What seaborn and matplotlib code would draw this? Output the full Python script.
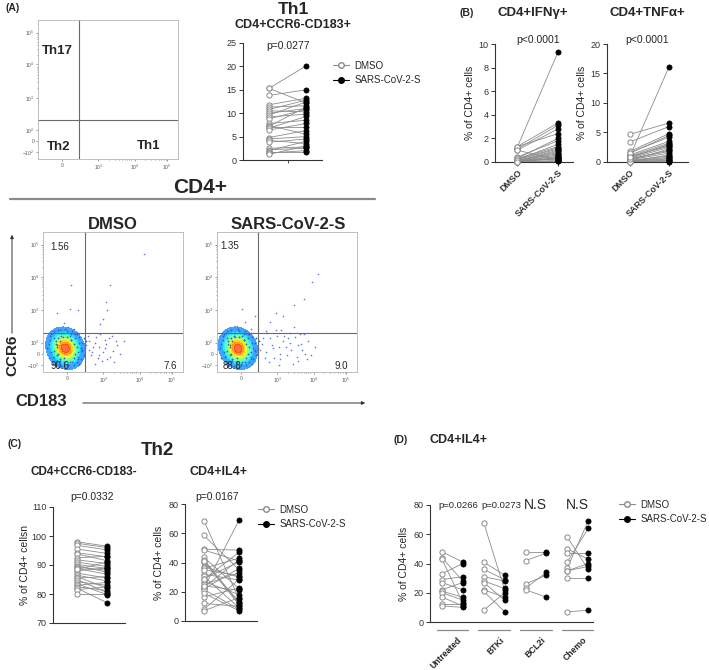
import numpy as np
import pandas as pd
import matplotlib
matplotlib.use("Agg")
import matplotlib.pyplot as plt
import seaborn as sns
from matplotlib.lines import Line2D
from matplotlib.patches import FancyArrowPatch
from matplotlib.colors import LinearSegmentedColormap

# ---------------- data ----------------
conds = ["DMSO", "SARS-CoV-2-S"]

# Th1 CD4+CCR6-CD183+
th1_dmso = [15.3, 15.3, 13.8, 11.8, 11.3, 10.8, 10.5, 10.0, 9.6, 9.2,
            8.8, 7.8, 7.4, 7.2, 7.0, 6.8, 6.4, 4.8, 4.5, 4.2,
            3.8, 2.5, 2.2, 2.0, 1.8, 1.5, 1.2]
th1_sars = [20.1, 12.2, 15.0, 13.2, 11.6, 12.8, 10.3, 11.0, 12.4, 9.8,
            10.8, 8.5, 5.5, 11.3, 7.0, 9.3, 7.8, 6.3, 5.0, 3.5,
            4.5, 2.8, 2.5, 4.0, 1.8, 2.0, 3.0]

# CD4+IFNg+
ifn_dmso = [1.2, 1.3, 1.1, 1.0, 1.3, 0.4, 0.3, 0.2, 0.2, 0.1,
            0.1, 0.1, 0.05, 0.05, 0.0, 0.0, 0.3, 0.2, 1.0, 0.1,
            0.0, 0.05, 0.1, 0.2, 0.0]
ifn_sars = [9.3, 3.3, 3.1, 2.8, 2.4, 1.8, 1.3, 1.2, 1.1, 1.0,
            0.9, 0.8, 0.6, 0.5, 0.4, 0.3, 2.0, 1.5, 0.2, 0.7,
            0.1, 0.35, 0.25, 0.15, 0.05]

# CD4+TNFa+
tnf_dmso = [1.0, 4.7, 3.4, 1.8, 1.5, 1.2, 1.0, 0.8, 0.6, 0.5,
            0.4, 0.3, 0.2, 0.1, 0.1, 0.0, 0.0, 1.6, 0.7, 0.2,
            0.3, 0.1, 0.0, 0.5, 0.9]
tnf_sars = [16.1, 6.6, 6.0, 4.8, 4.5, 3.5, 3.2, 2.9, 2.5, 2.0,
            1.5, 1.0, 0.8, 0.5, 0.3, 0.1, 0.0, 4.2, 3.0, 0.6,
            2.2, 1.2, 0.2, 1.8, 2.7]

# Th2 CD4+CCR6-CD183-
th2_dmso = [98.0, 97.5, 96.8, 95.5, 94.2, 93.8, 92.5, 91.8, 91.0, 90.2,
            89.8, 89.2, 88.8, 88.0, 87.2, 86.5, 86.0, 85.5, 85.0, 84.2,
            83.5, 83.0, 82.5, 82.0, 81.5, 80.0, 88.5]
th2_sars = [96.5, 96.0, 95.2, 94.0, 92.8, 91.5, 93.0, 90.5, 89.5, 88.8,
            87.5, 88.2, 86.8, 89.0, 85.5, 84.5, 82.0, 86.0, 80.5, 83.0,
            79.8, 84.0, 81.2, 77.0, 82.5, 80.0, 91.0]

# CD4+IL4+
il4_dmso = [68.5, 58.5, 49.0, 48.5, 43.5, 42.0, 40.5, 37.0, 36.0, 32.0,
            30.5, 28.5, 27.0, 25.0, 23.0, 22.5, 22.0, 21.5, 16.5, 12.0,
            8.0, 7.0, 41.0, 35.0, 29.0, 24.0, 19.0]
il4_sars = [15.0, 35.0, 48.5, 41.0, 22.0, 12.0, 13.0, 30.0, 43.0, 28.0,
            9.0, 47.0, 18.0, 33.0, 42.0, 69.0, 36.0, 8.0, 22.5, 10.0,
            28.5, 16.0, 11.0, 31.0, 40.5, 21.0, 7.0]

# CD4+IL4+ by treatment
groups = ["Untreated", "BTKi", "BCL2i", "Chemo"]
grp_dmso = [[48, 44, 43, 33, 29, 27, 22, 21, 20, 17, 12, 11],
            [68, 41, 36, 31, 28, 27, 22, 21, 8],
            [48, 42, 26, 23, 22],
            [58, 50, 47, 41, 37, 35, 35, 30, 7]]
grp_sars = [[41, 28, 13, 40, 31, 22, 27, 17, 15, 11, 12, 10],
            [22, 32, 29, 28, 23, 15, 17, 7, 20],
            [48, 47, 32, 34, 17],
            [36, 43, 47, 64, 69, 40, 38, 30, 8]]
grp_pvals = ["p=0.0266", "p=0.0273", "N.S", "N.S"]
grp_pval_x = [0.78, 2.85, 4.45, 6.5]

# flow cytometry events (axis units 0..1)
core_dx = [0.00, -0.01, 0.01, -0.02, 0.02, 0.00, -0.03, 0.03, -0.01, 0.01,
           -0.04, 0.04, 0.00, -0.02, 0.02, -0.05, 0.05, 0.00, -0.01, 0.01,
           -0.03, 0.03, 0.00, 0.00]
core_dy = [0.00, -0.01, 0.01, 0.02, -0.02, -0.04, -0.01, 0.01, 0.04, 0.03,
           0.00, -0.01, 0.05, -0.04, -0.05, 0.02, 0.03, -0.02, 0.00, -0.01,
           0.03, -0.03, 0.02, -0.02]
halo_dx = [-0.08, -0.07, -0.06, -0.05, -0.04, -0.03, 0.06, 0.07, 0.08, 0.09,
           0.10, 0.05, 0.04, -0.06, -0.04, -0.02, 0.03, 0.07, 0.11, -0.07,
           0.09, 0.02, -0.03, 0.06, 0.12, -0.05, 0.01, 0.08, -0.01, 0.04,
           -0.13, -0.11, -0.12, -0.10, -0.09, -0.08, -0.12, -0.07, -0.05, -0.03,
           0.00, 0.02, 0.05, 0.08, 0.10, 0.12, 0.13, 0.14, 0.11, 0.09,
           -0.10, -0.06, -0.02, 0.03, 0.07, 0.12, -0.08, 0.00, 0.06, 0.15,
           -0.04, 0.04, -0.09, 0.09, -0.11, 0.13, -0.01, 0.01, 0.10, -0.06]
halo_dy = [-0.02, 0.03, -0.05, 0.07, -0.08, 0.09, -0.07, 0.07, 0.01, -0.03,
           0.04, -0.10, 0.10, 0.01, -0.09, 0.08, 0.09, -0.04, 0.00, 0.05,
           -0.08, -0.11, 0.11, 0.03, -0.02, -0.04, 0.12, 0.10, -0.10, 0.06,
           0.00, 0.06, -0.07, 0.10, -0.11, 0.12, 0.03, -0.12, 0.13, -0.13,
           0.14, -0.12, 0.12, -0.10, 0.08, 0.04, -0.05, 0.00, -0.08, 0.11,
           -0.03, -0.09, 0.11, -0.10, 0.10, -0.01, 0.07, -0.14, -0.12, 0.05,
           0.05, 0.06, -0.06, -0.06, 0.09, 0.07, -0.07, 0.08, -0.11, 0.02]

ev_dmso_x = [0.12, 0.18, 0.22, 0.15, 0.10, 0.19, 0.25, 0.20,
             0.33, 0.36, 0.40, 0.45, 0.50, 0.38, 0.42, 0.47, 0.35, 0.52, 0.44, 0.39, 0.31, 0.48,
             0.32, 0.34, 0.37, 0.41, 0.43, 0.46, 0.49, 0.53, 0.55, 0.58, 0.37, 0.33, 0.51, 0.44, 0.40,
             0.41, 0.43, 0.46, 0.45, 0.48, 0.72]
ev_dmso_y = [0.30, 0.32, 0.31, 0.35, 0.42, 0.45, 0.44, 0.62,
             0.22, 0.18, 0.12, 0.20, 0.15, 0.25, 0.08, 0.24, 0.14, 0.22, 0.17, 0.10, 0.19, 0.11,
             0.26, 0.12, 0.21, 0.27, 0.14, 0.09, 0.26, 0.19, 0.13, 0.22, 0.06, 0.16, 0.07, 0.23, 0.18,
             0.34, 0.38, 0.44, 0.50, 0.62, 0.84]
ev_sars_x = [0.10, 0.14, 0.20, 0.24, 0.27, 0.18,
             0.32, 0.35, 0.38, 0.41, 0.44, 0.47, 0.50, 0.53, 0.56, 0.60,
             0.63, 0.36, 0.42, 0.48, 0.55, 0.58, 0.34, 0.46, 0.52, 0.40, 0.62, 0.45,
             0.31, 0.33, 0.37, 0.39, 0.43, 0.45, 0.49, 0.51, 0.54, 0.57,
             0.59, 0.61, 0.65, 0.67, 0.70, 0.35, 0.44, 0.52, 0.58, 0.64,
             0.38, 0.42, 0.47, 0.55, 0.62, 0.68, 0.72]
ev_sars_y = [0.30, 0.33, 0.36, 0.31, 0.40, 0.45,
             0.20, 0.14, 0.24, 0.10, 0.18, 0.22, 0.12, 0.16, 0.25, 0.20,
             0.13, 0.28, 0.30, 0.26, 0.32, 0.08, 0.10, 0.30, 0.21, 0.17, 0.27, 0.09,
             0.16, 0.24, 0.07, 0.19, 0.26, 0.13, 0.18, 0.24, 0.06, 0.11,
             0.27, 0.16, 0.22, 0.12, 0.18, 0.29, 0.05, 0.28, 0.19, 0.09,
             0.36, 0.42, 0.40, 0.48, 0.52, 0.64, 0.70]

flow_xticks = [0.17, 0.43, 0.69, 0.92]
flow_xlabels = ["0", "$10^3$", "$10^4$", "$10^5$"]
flow_yticks = [0.05, 0.13, 0.21, 0.44, 0.68, 0.91]
flow_ylabels = ["$-10^2$", "0", "$10^2$", "$10^3$", "$10^4$", "$10^5$"]

# ---------------- style ----------------
sns.set_style("ticks")
plt.rcParams["font.family"] = ["Liberation Sans", "DejaVu Sans"]
plt.rcParams["mathtext.fontset"] = "custom"
plt.rcParams["mathtext.rm"] = "Liberation Sans"
plt.rcParams["axes.edgecolor"] = "#333333"
plt.rcParams["axes.linewidth"] = 0.8
plt.rcParams["xtick.color"] = "#333333"
plt.rcParams["ytick.color"] = "#333333"

GREY = "#8a8a8a"
LINE = "#8c8c8c"
DOT = "#3a5ad0"
_jet = matplotlib.colormaps["jet"]
JET = LinearSegmentedColormap.from_list("jet_cut", [_jet(v) for v in np.linspace(0.22, 0.88, 12)])
W, H = 709, 670

fig = plt.figure(figsize=(W / 100, H / 100), dpi=100)


def px_ax(l, t, r, b):
    return fig.add_axes([l / W, 1 - b / H, (r - l) / W, (b - t) / H])


def ftext(x, y, s, **kw):
    kw.setdefault("ha", "center")
    kw.setdefault("va", "center")
    fig.text(x / W, 1 - y / H, s, **kw)


def paired(ax, dmso, sars, x0=0):
    n = len(dmso)
    df = pd.DataFrame({
        "pair": list(range(n)) * 2,
        "cond": [conds[0]] * n + [conds[1]] * n,
        "value": list(dmso) + list(sars),
    })
    df["x"] = np.where(df["cond"] == conds[0], x0, x0 + 1)
    df["pair"] = df["pair"] + x0 * 100
    sns.lineplot(data=df, x="x", y="value", units="pair", estimator=None,
                 color=LINE, lw=0.6, ax=ax, legend=False)
    sns.scatterplot(data=df[df["cond"] == conds[0]], x="x", y="value",
                    facecolor="white", edgecolor=GREY, linewidth=0.7, s=14,
                    ax=ax, zorder=3, clip_on=False)
    sns.scatterplot(data=df[df["cond"] == conds[1]], x="x", y="value",
                    color="black", edgecolor="black", linewidth=0.5, s=14,
                    ax=ax, zorder=3, clip_on=False)
    ax.set_xlabel("")
    ax.set_ylabel("")


def style_paired(ax, ylim, yticks):
    ax.set_ylim(*ylim)
    ax.set_yticks(yticks)
    ax.tick_params(axis="y", labelsize=6.5, length=3, width=0.7, pad=1.5)
    sns.despine(ax=ax)


def legend(ax, x, y):
    handles = [
        Line2D([0], [0], color=GREY, lw=0.8, marker="o", mfc="white", mec=GREY, ms=4),
        Line2D([0], [0], color="black", lw=0.8, marker="o", mfc="black", mec="black", ms=4),
    ]
    ax.legend(handles, conds, loc="center left", bbox_to_anchor=(x / W, 1 - y / H),
              bbox_transform=fig.transFigure, frameon=False, fontsize=7,
              handlelength=1.6, handletextpad=0.6, labelspacing=0.45,
              borderpad=0, borderaxespad=0)


def flow(ax, vline, hline, center=None, ev_x=(), ev_y=()):
    ax.set_xlim(0, 1)
    ax.set_ylim(0, 1)
    if center is not None:
        cx, cy = center
        kx = [cx + d for d in core_dx]
        ky = [cy + d for d in core_dy]
        sns.kdeplot(x=kx, y=ky, fill=True, cmap=JET, levels=10, thresh=0.05,
                    bw_adjust=3.6, alpha=0.75, ax=ax)
        hx = [cx + d for d in halo_dx]
        hy = [cy + d for d in halo_dy]
        sns.scatterplot(x=hx, y=hy, s=1.6, color=DOT, linewidth=0, ax=ax)
        sns.scatterplot(x=list(ev_x), y=list(ev_y), s=1.4, color=DOT,
                        linewidth=0, alpha=0.8, ax=ax)
    ax.axvline(vline, color="#6a6a6a", lw=0.8)
    ax.axhline(hline, color="#6a6a6a", lw=0.8)
    ax.set_xticks(flow_xticks)
    ax.set_xticklabels(flow_xlabels)
    ax.set_yticks(flow_yticks)
    ax.set_yticklabels(flow_ylabels)
    minors_x = [d + 0.245 * np.log10(k) for d in flow_xticks[1:3] for k in range(2, 10)]
    minors_y = [d + 0.235 * np.log10(k) for d in flow_yticks[3:5] for k in range(2, 10)]
    ax.set_xticks(minors_x, minor=True)
    ax.set_yticks(minors_y, minor=True)
    ax.tick_params(which="both", labelsize=3.5, length=1.6, width=0.4, pad=1, colors="#555555")
    ax.tick_params(which="minor", length=1.0)
    for sp in ax.spines.values():
        sp.set_color("#b5b5b5")
        sp.set_linewidth(0.6)
    ax.set_xlabel("")
    ax.set_ylabel("")


# ---------------- panel A ----------------
ftext(5, 8, "(A)", ha="left", fontsize=7.5, fontweight="bold")

ax = px_ax(38, 20, 178, 159)
flow(ax, 0.29, 0.28)
ax.text(0.136, 0.78, "Th17", transform=ax.transAxes, ha="center", va="center", fontsize=9.5, fontweight="bold")
ax.text(0.15, 0.086, "Th2", transform=ax.transAxes, ha="center", va="center", fontsize=9.5, fontweight="bold")
ax.text(0.79, 0.094, "Th1", transform=ax.transAxes, ha="center", va="center", fontsize=9.5, fontweight="bold")

ftext(293, 14, "Th1", va="baseline", fontsize=12.5, fontweight="bold")
ftext(293, 28, "CD4+CCR6-CD183+", va="baseline", fontsize=9, fontweight="bold")
ax = px_ax(243, 43, 322, 160)
paired(ax, th1_dmso, th1_sars)
ax.set_xlim(-0.7, 1.43)
ax.set_xticks([0.5])
ax.set_xticklabels([])
ax.tick_params(axis="x", length=2, width=0.6)
style_paired(ax, (0, 25), [0, 5, 10, 15, 20, 25])
ftext(288, 46, "p=0.0277", fontsize=7.5)
legend(ax, 333, 73)

ftext(200, 193, "CD4+", va="baseline", fontsize=15, fontweight="bold")
fig.add_artist(Line2D([10 / W, 375 / W], [1 - 199 / H, 1 - 199 / H], color="#8a8a8a", lw=1.6))

ax = px_ax(43, 232, 183, 372)
flow(ax, 0.30, 0.28, center=(0.16, 0.17), ev_x=ev_dmso_x, ev_y=ev_dmso_y)
ftext(113, 229, "DMSO", va="baseline", fontsize=12, fontweight="bold")
ax.text(0.12, 0.89, "1.56", transform=ax.transAxes, ha="center", va="center", fontsize=7)
ax.text(0.12, 0.045, "90.6", transform=ax.transAxes, ha="center", va="center", fontsize=7)
ax.text(0.91, 0.045, "7.6", transform=ax.transAxes, ha="center", va="center", fontsize=7)

ax = px_ax(217, 232, 357, 372)
flow(ax, 0.29, 0.28, center=(0.15, 0.17), ev_x=ev_sars_x, ev_y=ev_sars_y)
ftext(288, 229, "SARS-CoV-2-S", va="baseline", fontsize=12, fontweight="bold")
ax.text(0.09, 0.90, "1.35", transform=ax.transAxes, ha="center", va="center", fontsize=7)
ax.text(0.105, 0.045, "88.8", transform=ax.transAxes, ha="center", va="center", fontsize=7)
ax.text(0.89, 0.045, "9.0", transform=ax.transAxes, ha="center", va="center", fontsize=7)

ftext(12, 355, "CCR6", rotation=90, fontsize=11, fontweight="bold")
fig.add_artist(FancyArrowPatch((12 / W, 1 - 336 / H), (12 / W, 1 - 232 / H),
                               transform=fig.transFigure, arrowstyle="-|>",
                               mutation_scale=5, color="#333333", lw=0.7))
ftext(41, 402, "CD183", fontsize=12, fontweight="bold")
fig.add_artist(FancyArrowPatch((80 / W, 1 - 403 / H), (368 / W, 1 - 403 / H),
                               transform=fig.transFigure, arrowstyle="-|>",
                               mutation_scale=5, color="#333333", lw=0.7))

# ---------------- panel B ----------------
ftext(460, 13, "(B)", ha="left", fontsize=7.5, fontweight="bold")
ftext(533, 16, "CD4+IFN\u03b3+", va="baseline", fontsize=9.5, fontweight="bold")
ftext(647, 16, "CD4+TNF\u03b1+", va="baseline", fontsize=9.5, fontweight="bold")

for (l, r, dm, sa, ylim, yt, xl, pt) in [
        (495, 573, ifn_dmso, ifn_sars, (0, 10), [0, 2, 4, 6, 8, 10], (-0.54, 1.37), 538),
        (607, 688, tnf_dmso, tnf_sars, (0, 20), [0, 5, 10, 15, 20], (-0.59, 1.49), 647)]:
    ax = px_ax(l, 44, r, 162)
    paired(ax, dm, sa)
    ax.set_xlim(*xl)
    ax.set_xticks([0, 1])
    ax.set_xticklabels(["DMSO", "SARS-CoV-2-S"], rotation=45, ha="right",
                       rotation_mode="anchor", fontsize=6.5, fontweight="bold")
    ax.tick_params(axis="x", length=3, width=0.7, pad=1.5)
    style_paired(ax, ylim, yt)
    ax.set_ylabel("% of CD4+ cells", fontsize=7.5, labelpad=3)
    ftext(pt, 40, "p<0.0001", fontsize=7.5)

# ---------------- panel C ----------------
ftext(7, 444, "(C)", ha="left", fontsize=7.5, fontweight="bold")
ftext(157, 455, "Th2", va="baseline", fontsize=13.5, fontweight="bold")
ftext(84, 475, "CD4+CCR6-CD183-", va="baseline", fontsize=8.5, fontweight="bold")
ftext(219, 475, "CD4+IL4+", va="baseline", fontsize=9, fontweight="bold")

ax = px_ax(53, 507, 125, 623)
paired(ax, th2_dmso, th2_sars)
ax.set_xlim(-0.8, 1.6)
ax.set_xticks([])
style_paired(ax, (70, 110), [70, 80, 90, 100, 110])
ax.set_ylabel("% of CD4+ cellsn", fontsize=7.5, labelpad=1)
ftext(92, 497, "p=0.0332", fontsize=7.5)

ax = px_ax(185, 504, 257, 621)
paired(ax, il4_dmso, il4_sars)
ax.set_xlim(-0.54, 1.51)
ax.set_xticks([])
style_paired(ax, (0, 80), [0, 20, 40, 60, 80])
ax.set_ylabel("% of CD4+ cells", fontsize=7.5, labelpad=3)
ftext(217, 497, "p=0.0167", fontsize=7.5)
legend(ax, 258, 517)

# ---------------- panel D ----------------
ftext(393, 440, "(D)", ha="left", fontsize=7.5, fontweight="bold")
ftext(458, 440, "CD4+IL4+", fontsize=9, fontweight="bold")

ax = px_ax(430, 505, 593, 622)
for i, g in enumerate(groups):
    paired(ax, grp_dmso[i], grp_sars[i], x0=2 * i)
ax.set_xlim(-0.57, 7.23)
ax.set_xticks([])
style_paired(ax, (0, 80), [0, 20, 40, 60, 80])
ax.set_ylabel("% of CD4+ cells", fontsize=7.5, labelpad=3)
trans = matplotlib.transforms.blended_transform_factory(ax.transData, ax.transAxes)
for i, g in enumerate(groups):
    ax.plot([2 * i - 0.25, 2 * i + 1.25], [-0.07, -0.07], color="#8a8a8a", lw=0.9,
            transform=trans, clip_on=False)
    ax.text(2 * i + 0.75, -0.115, g, transform=trans, rotation=45, ha="right", va="top",
            rotation_mode="anchor", fontsize=6.2, fontweight="bold")
    fs = 10 if grp_pvals[i] == "N.S" else 6.8
    ax.text(grp_pval_x[i], 1.0, grp_pvals[i], transform=trans, ha="center", va="center", fontsize=fs)
legend(ax, 619, 512)

fig.savefig("out.png", dpi=100, facecolor="white")
